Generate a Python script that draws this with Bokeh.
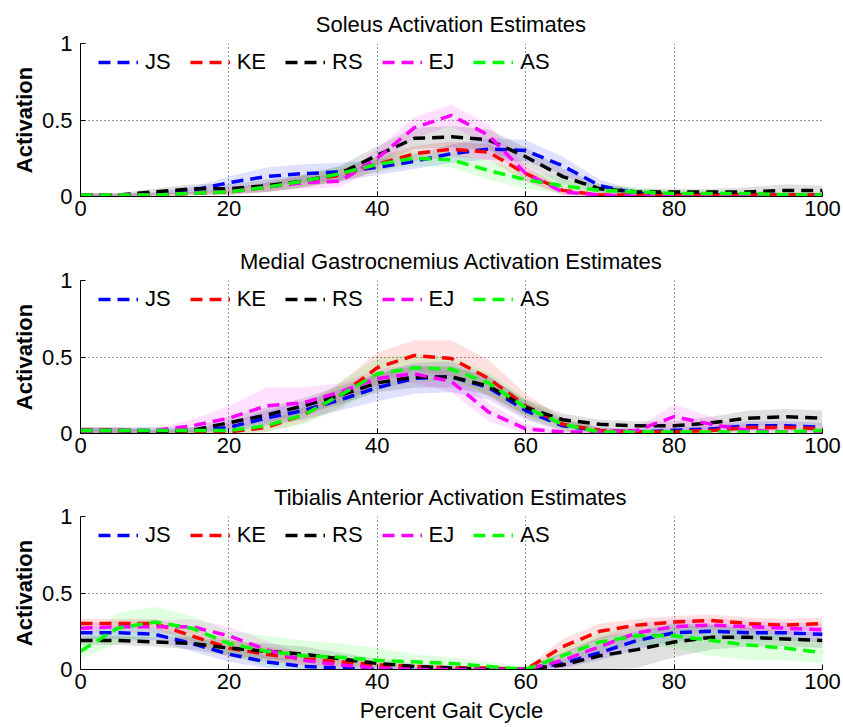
from bokeh.plotting import figure
from bokeh.layouts import column
from bokeh.models import FixedTicker, Legend, LegendItem, Range1d
from bokeh.embed import file_html
from bokeh.resources import INLINE

pct = [0, 5, 10, 15, 20, 25, 30, 35, 40, 45, 50, 55, 60, 65, 70, 75, 80, 85, 90, 95, 100]
subjects = ["JS", "KE", "RS", "EJ", "AS"]
colors = ["#0000ff", "#ff0000", "#000000", "#ff00ff", "#00ff00"]
titles = ["Soleus Activation Estimates",
          "Medial Gastrocnemius Activation Estimates",
          "Tibialis Anterior Activation Estimates"]
x_ticks = [0, 20, 40, 60, 80, 100]
y_ticks = [0, 0.5, 1]
y_tick_labels = ["0", "0.5", "1"]

# ---- Soleus: mean and band half-width ----
sol_js = [0.01, 0.01, 0.02, 0.04, 0.09, 0.13, 0.15, 0.16, 0.19, 0.23, 0.28, 0.31, 0.30, 0.20, 0.07, 0.02, 0.01, 0.01, 0.01, 0.01, 0.01]
sol_ke = [0.01, 0.01, 0.01, 0.02, 0.03, 0.06, 0.10, 0.14, 0.21, 0.28, 0.31, 0.29, 0.15, 0.04, 0.01, 0.01, 0.01, 0.01, 0.01, 0.01, 0.01]
sol_rs = [0.01, 0.01, 0.03, 0.05, 0.05, 0.07, 0.10, 0.15, 0.27, 0.38, 0.39, 0.37, 0.26, 0.13, 0.05, 0.03, 0.03, 0.03, 0.03, 0.04, 0.04]
sol_ej = [0.01, 0.01, 0.01, 0.02, 0.03, 0.06, 0.09, 0.10, 0.25, 0.45, 0.53, 0.40, 0.15, 0.03, 0.01, 0.00, 0.00, 0.00, 0.00, 0.00, 0.00]
sol_as = [0.01, 0.01, 0.01, 0.02, 0.03, 0.06, 0.10, 0.15, 0.21, 0.25, 0.24, 0.17, 0.11, 0.07, 0.04, 0.03, 0.02, 0.02, 0.02, 0.01, 0.01]
sol_js_sd = [0.01, 0.01, 0.01, 0.02, 0.04, 0.06, 0.06, 0.06, 0.05, 0.05, 0.06, 0.07, 0.07, 0.06, 0.04, 0.02, 0.01, 0.01, 0.01, 0.01, 0.01]
sol_ke_sd = [0.01, 0.01, 0.01, 0.01, 0.02, 0.03, 0.04, 0.04, 0.05, 0.05, 0.05, 0.05, 0.05, 0.03, 0.02, 0.01, 0.01, 0.01, 0.01, 0.01, 0.01]
sol_rs_sd = [0.01, 0.01, 0.02, 0.03, 0.03, 0.04, 0.04, 0.05, 0.06, 0.07, 0.07, 0.07, 0.06, 0.05, 0.03, 0.02, 0.02, 0.02, 0.03, 0.04, 0.03]
sol_ej_sd = [0.01, 0.01, 0.01, 0.01, 0.02, 0.03, 0.04, 0.04, 0.06, 0.07, 0.07, 0.07, 0.05, 0.02, 0.01, 0.01, 0.01, 0.01, 0.01, 0.01, 0.01]
sol_as_sd = [0.01, 0.01, 0.01, 0.01, 0.02, 0.03, 0.04, 0.05, 0.05, 0.05, 0.05, 0.06, 0.06, 0.05, 0.04, 0.03, 0.02, 0.02, 0.02, 0.02, 0.02]

# ---- Medial Gastrocnemius ----
mg_js = [0.02, 0.02, 0.02, 0.02, 0.04, 0.10, 0.15, 0.22, 0.30, 0.36, 0.37, 0.30, 0.15, 0.05, 0.02, 0.01, 0.02, 0.03, 0.05, 0.05, 0.04]
mg_ke = [0.02, 0.02, 0.01, 0.01, 0.01, 0.04, 0.12, 0.25, 0.43, 0.51, 0.49, 0.36, 0.18, 0.06, 0.02, 0.01, 0.01, 0.02, 0.04, 0.04, 0.03]
mg_rs = [0.02, 0.02, 0.01, 0.02, 0.07, 0.12, 0.18, 0.25, 0.33, 0.37, 0.37, 0.31, 0.17, 0.09, 0.06, 0.05, 0.05, 0.07, 0.10, 0.11, 0.10]
mg_ej = [0.02, 0.02, 0.02, 0.05, 0.10, 0.18, 0.20, 0.27, 0.36, 0.39, 0.34, 0.14, 0.03, 0.01, 0.01, 0.02, 0.11, 0.06, 0.02, 0.01, 0.01]
mg_as = [0.02, 0.02, 0.02, 0.02, 0.02, 0.05, 0.12, 0.25, 0.39, 0.43, 0.42, 0.33, 0.17, 0.06, 0.01, 0.01, 0.01, 0.01, 0.01, 0.01, 0.02]
mg_js_sd = [0.02, 0.02, 0.02, 0.02, 0.03, 0.05, 0.06, 0.07, 0.09, 0.10, 0.10, 0.08, 0.06, 0.04, 0.02, 0.02, 0.02, 0.02, 0.03, 0.03, 0.03]
mg_ke_sd = [0.02, 0.02, 0.01, 0.01, 0.01, 0.03, 0.05, 0.08, 0.10, 0.10, 0.12, 0.12, 0.08, 0.04, 0.02, 0.01, 0.01, 0.02, 0.02, 0.02, 0.02]
mg_rs_sd = [0.02, 0.02, 0.01, 0.02, 0.04, 0.05, 0.05, 0.06, 0.06, 0.07, 0.07, 0.06, 0.05, 0.04, 0.03, 0.03, 0.03, 0.04, 0.05, 0.05, 0.05]
mg_ej_sd = [0.02, 0.02, 0.02, 0.04, 0.08, 0.12, 0.10, 0.06, 0.06, 0.06, 0.07, 0.06, 0.03, 0.01, 0.01, 0.02, 0.08, 0.05, 0.02, 0.01, 0.01]
mg_as_sd = [0.02, 0.02, 0.02, 0.02, 0.02, 0.04, 0.06, 0.09, 0.10, 0.09, 0.08, 0.07, 0.06, 0.04, 0.02, 0.01, 0.01, 0.01, 0.01, 0.01, 0.02]

# ---- Tibialis Anterior ----
ta_js = [0.24, 0.24, 0.23, 0.17, 0.10, 0.05, 0.02, 0.01, 0.00, 0.00, 0.00, 0.00, 0.00, 0.04, 0.11, 0.19, 0.24, 0.25, 0.24, 0.24, 0.23]
ta_ke = [0.30, 0.30, 0.30, 0.22, 0.14, 0.10, 0.07, 0.05, 0.03, 0.02, 0.01, 0.01, 0.00, 0.15, 0.25, 0.29, 0.31, 0.32, 0.30, 0.29, 0.30]
ta_rs = [0.19, 0.19, 0.18, 0.17, 0.14, 0.12, 0.10, 0.07, 0.04, 0.02, 0.01, 0.00, 0.00, 0.03, 0.09, 0.13, 0.18, 0.21, 0.21, 0.20, 0.19]
ta_ej = [0.27, 0.28, 0.28, 0.28, 0.22, 0.13, 0.06, 0.03, 0.01, 0.00, 0.00, 0.00, 0.00, 0.06, 0.15, 0.24, 0.28, 0.29, 0.28, 0.27, 0.26]
ta_as = [0.12, 0.27, 0.31, 0.27, 0.17, 0.12, 0.09, 0.08, 0.06, 0.05, 0.04, 0.02, 0.00, 0.09, 0.18, 0.22, 0.22, 0.19, 0.16, 0.14, 0.11]
ta_js_sd = [0.04, 0.04, 0.04, 0.05, 0.05, 0.04, 0.03, 0.02, 0.01, 0.01, 0.01, 0.01, 0.01, 0.03, 0.05, 0.06, 0.06, 0.05, 0.05, 0.05, 0.05]
ta_ke_sd = [0.03, 0.03, 0.03, 0.05, 0.06, 0.05, 0.04, 0.03, 0.02, 0.01, 0.01, 0.01, 0.01, 0.05, 0.05, 0.04, 0.04, 0.04, 0.04, 0.04, 0.04]
ta_rs_sd = [0.03, 0.03, 0.03, 0.04, 0.05, 0.05, 0.05, 0.04, 0.03, 0.02, 0.02, 0.01, 0.02, 0.08, 0.12, 0.12, 0.10, 0.08, 0.06, 0.05, 0.05]
ta_ej_sd = [0.03, 0.04, 0.04, 0.05, 0.06, 0.06, 0.04, 0.03, 0.02, 0.01, 0.01, 0.01, 0.01, 0.05, 0.06, 0.06, 0.05, 0.04, 0.04, 0.04, 0.04]
ta_as_sd = [0.05, 0.10, 0.10, 0.08, 0.08, 0.10, 0.10, 0.09, 0.08, 0.05, 0.04, 0.03, 0.02, 0.05, 0.06, 0.06, 0.08, 0.10, 0.10, 0.08, 0.07]

panels = [
    ([sol_js, sol_ke, sol_rs, sol_ej, sol_as], [sol_js_sd, sol_ke_sd, sol_rs_sd, sol_ej_sd, sol_as_sd]),
    ([mg_js, mg_ke, mg_rs, mg_ej, mg_as], [mg_js_sd, mg_ke_sd, mg_rs_sd, mg_ej_sd, mg_as_sd]),
    ([ta_js, ta_ke, ta_rs, ta_ej, ta_as], [ta_js_sd, ta_ke_sd, ta_rs_sd, ta_ej_sd, ta_as_sd]),
]

FONT = "Liberation Sans"
heights = [237, 236, 254]
bottoms = [41, 40, 58]

figs = []
for i, (means, sds) in enumerate(panels):
    p = figure(width=843, height=heights[i], output_backend="svg", toolbar_location=None,
               x_range=Range1d(0, 100), y_range=Range1d(0, 1),
               min_border_left=80, min_border_right=21, min_border_top=43,
               min_border_bottom=bottoms[i])
    p.outline_line_color = None
    p.title.text = titles[i]
    p.title.align = "center"
    p.title.text_font = FONT
    p.title.text_font_size = "22px"
    p.title.text_font_style = "normal"
    p.title.text_color = "black"
    p.title.standoff = 14

    for m, s, c in zip(means, sds, colors):
        lo = [max(a - b, 0) for a, b in zip(m, s)]
        hi = [a + b for a, b in zip(m, s)]
        p.varea(x=pct, y1=lo, y2=hi, fill_color=c, fill_alpha=0.12)

    items = []
    for name, m, c in zip(subjects, means, colors):
        r = p.line(pct, m, line_color=c, line_width=3.5, line_dash="12 7")
        items.append(LegendItem(label=name, renderers=[r]))

    leg = Legend(items=items, orientation="horizontal", location=(18, 121),
                 border_line_alpha=0, background_fill_alpha=0,
                 glyph_width=40, glyph_height=20, label_standoff=7, spacing=19,
                 padding=0, margin=0, label_text_font=FONT, label_text_font_size="22px",
                 label_text_color="black")
    p.add_layout(leg)

    p.xaxis.ticker = FixedTicker(ticks=x_ticks)
    p.yaxis.ticker = FixedTicker(ticks=y_ticks)
    p.yaxis.major_label_overrides = {t: l for t, l in zip(y_ticks, y_tick_labels)}
    for ax in (p.xaxis, p.yaxis):
        ax.major_label_text_font = FONT
        ax.major_label_text_font_size = "22px"
        ax.major_label_text_color = "black"
        ax.major_tick_in = 5
        ax.major_tick_out = 0
        ax.minor_tick_line_color = None
        ax.axis_line_color = "black"
        ax.major_tick_line_color = "black"
    p.xaxis.major_label_standoff = 4
    p.yaxis.major_label_standoff = 8
    p.yaxis.axis_label = "Activation"
    p.yaxis.axis_label_text_font = FONT
    p.yaxis.axis_label_text_font_size = "22px"
    p.yaxis.axis_label_text_font_style = "bold"
    p.yaxis.axis_label_text_color = "black"
    p.yaxis.axis_label_standoff = 2
    if i == 2:
        p.xaxis.axis_label = "Percent Gait Cycle"
        p.xaxis.axis_label_text_font = FONT
        p.xaxis.axis_label_text_font_size = "22px"
        p.xaxis.axis_label_text_font_style = "normal"
        p.xaxis.axis_label_text_color = "black"
        p.xaxis.axis_label_standoff = 6

    for g in (p.xgrid, p.ygrid):
        g.grid_line_color = "black"
        g.grid_line_dash = "1 3"
        g.grid_line_alpha = 0.8
    figs.append(p)

layout = column(*figs, spacing=0)
open("out.html", "w").write(file_html(layout, INLINE))
